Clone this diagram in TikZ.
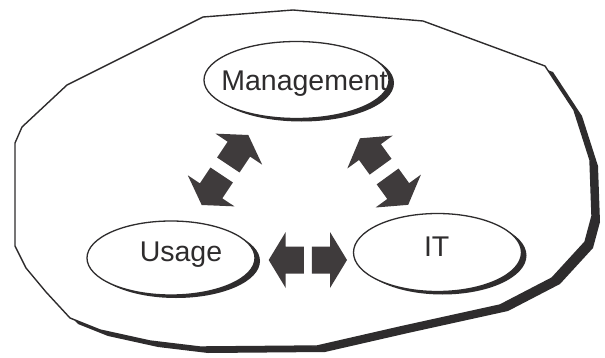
\documentclass[tikz,border=0pt]{standalone}
\usepackage{fontspec}
\setmainfont{Liberation Sans}
\usetikzlibrary{calc,shapes.geometric,shadows}

\definecolor{ink}{HTML}{2E2C2D}
\definecolor{arrowgrey}{HTML}{3F3B3C}

\tikzset{
  outline/.style={draw=ink, line width=1.4pt, fill=white,
    drop shadow={shadow xshift=8pt, shadow yshift=-6pt, opacity=1, fill=ink}},
  bubble/.style={ellipse, draw=ink, line width=1.3pt, fill=white, inner sep=0pt,
    drop shadow={shadow xshift=5pt, shadow yshift=-3pt, opacity=1, fill=ink}},
  caption/.style={font=\fontsize{28.5}{30}\selectfont, text=ink, inner sep=0pt, anchor=base},
  arrowfill/.style={fill=arrowgrey},
  % two block arrows back to back: tips at (0,0) and (#1,0), gap #2 between the shafts
  pics/twin/.style 2 args={code={
    \fill[arrowfill] (0,0) -- (17,28) -- (17,13.5) -- ({#1/2-#2/2},13.5)
      -- ({#1/2-#2/2},-13.5) -- (17,-13.5) -- (17,-28) -- cycle;
    \fill[arrowfill] (#1,0) -- ({#1-17},28) -- ({#1-17},13.5) -- ({#1/2+#2/2},13.5)
      -- ({#1/2+#2/2},-13.5) -- ({#1-17},-13.5) -- ({#1-17},-28) -- cycle;
  }}
}

% a pair of block arrows from tip #1 to tip #2, with gap #3
\newcommand\twinarrows[3]{%
  \path let \p1=(#1), \p2=(#2),
    \n1={atan2(\y2-\y1,\x2-\x1)}, \n2={veclen(\x2-\x1,\y2-\y1)} in
    pic[rotate=\n1] at (\p1) {twin={\n2}{#3}};}

\begin{document}
\begin{tikzpicture}[x=1pt,y=1pt]
  \useasboundingbox (0,0) rectangle (605,357);

  % the surrounding organisation
  \draw[outline] (203,340) -- (293,347) -- (423,336) -- (545,291) -- (574,247)
    -- (590,197) -- (592,141) -- (585,115) -- (552,79) -- (500,52) -- (400,30)
    -- (317,11) -- (200,10) -- (150,16) -- (100,27) -- (70,39) -- (46,65)
    -- (26,89) -- (15,111) -- (15,214) -- (22,230) -- (67,272) -- cycle;

  % the three domains
  \node[bubble, minimum width=185pt, minimum height=77pt] (mgmt) at (296.5,277) {};
  \node[bubble, minimum width=168pt, minimum height=74pt] (usage) at (171,99) {};
  \node[bubble, minimum width=168pt, minimum height=78pt] (it) at (437.5,104.5) {};

  \node[caption] at ([shift={(8,-10)}]mgmt.center) {Management};
  \node[caption] at ([shift={(10,-3)}]usage.center) {Usage};
  \node[caption] at ([shift={(-0.8,-4.2)}]it.center) {IT};

  % arrow tips
  \coordinate (um1) at (201.7,152);
  \coordinate (um2) at (248.3,222);
  \coordinate (mi1) at (360,218.7);
  \coordinate (mi2) at (408.3,152);
  \coordinate (ui1) at (268.7,97);
  \coordinate (ui2) at (347,97);

  \twinarrows{um1}{um2}{12}
  \twinarrows{mi1}{mi2}{12}
  \twinarrows{ui1}{ui2}{8}
\end{tikzpicture}
\end{document}
